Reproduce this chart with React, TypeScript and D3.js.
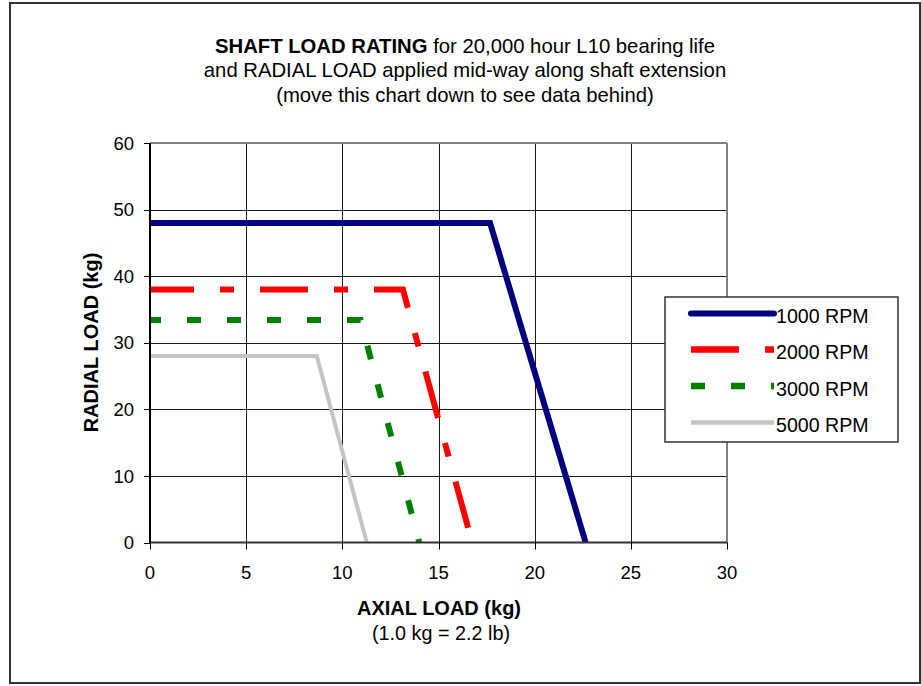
import React from "react";
import * as d3 from "d3";

const xTickValues = [0, 5, 10, 15, 20, 25, 30];
const yTickValues = [0, 10, 20, 30, 40, 50, 60];

const seriesNames = ["1000 RPM", "2000 RPM", "3000 RPM", "5000 RPM"];
const axial1000 = [0, 17.68, 22.65];
const radial1000 = [48, 48, 0];
const axial2000 = [0, 13.15, 16.75];
const radial2000 = [38, 38, 0];
const axial3000 = [0, 10.95, 14.0];
const radial3000 = [33.4, 33.4, 0];
const axial5000 = [0, 8.67, 11.27];
const radial5000 = [28, 28, 0];

const titleLines = [
  ["SHAFT LOAD RATING", " for 20,000 hour L10 bearing life"],
  ["", "and RADIAL LOAD applied mid-way along shaft extension"],
  ["", "(move this chart down to see data behind)"],
];

const FONT = "'Liberation Sans', Arial, Helvetica, sans-serif";

const styles = [
  { color: "#000080", width: 6, dash: "", offset: 0, cap: "butt" },
  { color: "#ff0000", width: 6, dash: "48,26,14,26", offset: 4, cap: "butt" },
  { color: "#008000", width: 6, dash: "14,26", offset: 3, cap: "butt" },
  { color: "#c4c4c4", width: 4, dash: "", offset: 0, cap: "butt" },
];

export default function App() {
  const W = 921;
  const H = 686;
  const x = d3.scaleLinear().domain([0, 30]).range([150, 727]);
  const y = d3.scaleLinear().domain([0, 60]).range([542.5, 143]);

  const data = [
    d3.zip(axial1000, radial1000),
    d3.zip(axial2000, radial2000),
    d3.zip(axial3000, radial3000),
    d3.zip(axial5000, radial5000),
  ];
  const line = d3
    .line<number[]>()
    .x((d) => x(d[0]))
    .y((d) => y(d[1]));

  const legX0 = 691;
  const legX1 = 774;
  const legY = [313.5, 349.5, 386, 422.5];

  return (
    <svg
      width={W}
      height={H}
      style={{ position: "absolute", left: 0, top: 0, background: "#fff" }}
      fontFamily={FONT}
    >
      <rect x={0} y={0} width={W} height={H} fill="#fff" />
      <rect x={10} y={3} width={910} height={680} fill="#fff" stroke="#333" strokeWidth={2} />

      {/* Title */}
      {titleLines.map((ln, i) => (
        <text key={i} x={465} y={52.5 + i * 24.5} textAnchor="middle" fontSize={20.3} fill="#000">
          {ln[0] ? <tspan fontWeight="bold">{ln[0]}</tspan> : null}
          <tspan>{ln[1]}</tspan>
        </text>
      ))}

      {/* grid */}
      {yTickValues.slice(1, -1).map((v) => (
        <line key={"gy" + v} x1={x(0)} x2={x(30)} y1={Math.round(y(v)) + 0.5} y2={Math.round(y(v)) + 0.5} stroke="#1a1a1a" strokeWidth={1} />
      ))}
      {xTickValues.slice(1, -1).map((v) => (
        <line key={"gx" + v} x1={Math.round(x(v)) + 0.5} x2={Math.round(x(v)) + 0.5} y1={y(60)} y2={y(0)} stroke="#1a1a1a" strokeWidth={1} />
      ))}
      {/* plot border top & right */}
      <line x1={x(0)} x2={x(30)} y1={y(60)} y2={y(60)} stroke="#808080" strokeWidth={2} />
      <line x1={x(30)} x2={x(30)} y1={y(60)} y2={y(0)} stroke="#808080" strokeWidth={2} />

      {/* series */}
      {data.map((d, i) => (
        <path
          key={"s" + i}
          d={line(d as any) || ""}
          fill="none"
          stroke={styles[i].color}
          strokeWidth={styles[i].width}
          strokeDasharray={styles[i].dash || undefined}
          strokeDashoffset={styles[i].offset}
          strokeLinejoin="miter"
          strokeLinecap={styles[i].cap as any}
        />
      ))}

      {/* axes */}
      <line x1={x(0)} x2={x(0)} y1={y(60)} y2={y(0) + 1} stroke="#000" strokeWidth={2} />
      <line x1={x(0)} x2={x(30)} y1={y(0)} y2={y(0)} stroke="#333" strokeWidth={2} />
      {yTickValues.map((v) => (
        <g key={"yt" + v}>
          <line x1={x(0) - 6} x2={x(0)} y1={Math.round(y(v)) + 0.5} y2={Math.round(y(v)) + 0.5} stroke="#000" />
          <text x={134} y={y(v) + 6.6} textAnchor="end" fontSize={18.5} fill="#000">
            {v}
          </text>
        </g>
      ))}
      {xTickValues.map((v) => (
        <g key={"xt" + v}>
          <line x1={Math.round(x(v)) + 0.5} x2={Math.round(x(v)) + 0.5} y1={y(0)} y2={y(0) + 7} stroke="#000" />
          <text x={x(v)} y={578.5} textAnchor="middle" fontSize={18.5} fill="#000">
            {v}
          </text>
        </g>
      ))}

      {/* axis titles */}
      <text x={439} y={615} textAnchor="middle" fontSize={20} fontWeight="bold" fill="#000">
        AXIAL LOAD (kg)
      </text>
      <text x={441} y={639.5} textAnchor="middle" fontSize={19.8} fill="#000">
        (1.0 kg = 2.2 lb)
      </text>
      <text
        transform={`translate(98,342.5) rotate(-90)`}
        textAnchor="middle"
        fontSize={20}
        fontWeight="bold"
        fill="#000"
      >
        RADIAL LOAD (kg)
      </text>

      {/* legend */}
      <rect x={665} y={297} width={233} height={145} fill="#fff" stroke="#333" strokeWidth={1.5} />
      {seriesNames.map((name, i) => (
        <g key={"lg" + i}>
          <line
            x1={legX0}
            x2={legX1}
            y1={legY[i]}
            y2={legY[i]}
            stroke={styles[i].color}
            strokeWidth={i === 0 ? 6 : styles[i].width + 0.5}
            strokeDasharray={styles[i].dash || undefined}
            strokeLinecap={i === 0 ? "round" : "butt"}
          />
          <text x={776} y={legY[i] + 9.5} fontSize={19.6} fill="#000">
            {name}
          </text>
        </g>
      ))}
    </svg>
  );
}
